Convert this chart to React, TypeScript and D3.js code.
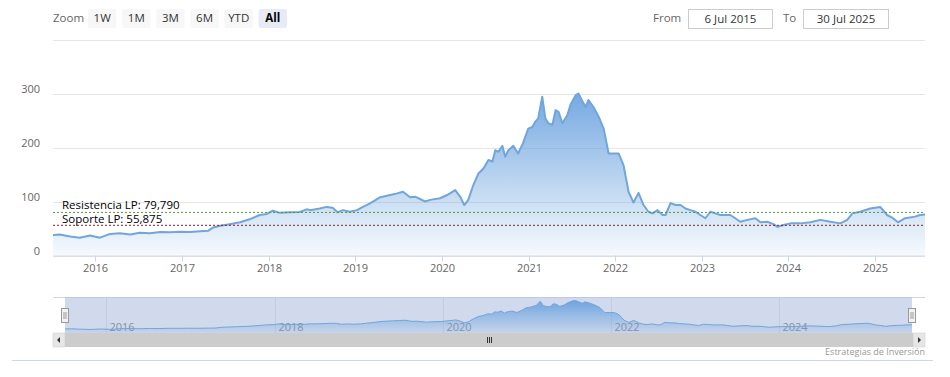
import React from 'react';
import * as d3 from 'd3';

const dates = [
  '2015-07-06','2015-08-03','2015-09-16','2015-10-27','2015-12-09','2016-01-20','2016-03-03','2016-04-13','2016-05-26','2016-07-06',
  '2016-08-18','2016-09-30','2016-11-10','2016-12-23','2017-02-03','2017-03-18','2017-04-21','2017-05-12','2017-06-10','2017-07-20',
  '2017-09-02','2017-10-12','2017-11-24','2017-12-24','2018-01-18','2018-02-17','2018-04-01','2018-05-11','2018-06-10','2018-06-24',
  '2018-08-04','2018-09-02','2018-09-27','2018-10-18','2018-11-09','2018-12-09','2019-01-08','2019-02-02','2019-03-04','2019-04-16',
  '2019-05-28','2019-06-26','2019-07-21','2019-08-20','2019-09-10','2019-10-22','2019-11-12','2019-12-24','2020-01-23','2020-02-26',
  '2020-03-19','2020-04-04','2020-04-21','2020-05-12','2020-06-03','2020-06-24','2020-07-15','2020-08-01','2020-08-13','2020-08-26',
  '2020-09-12','2020-09-24','2020-10-07','2020-10-28','2020-11-17','2020-12-08','2020-12-30','2021-01-16','2021-01-29','2021-02-10',
  '2021-02-27','2021-03-12','2021-03-25','2021-04-11','2021-04-24','2021-05-07','2021-05-23','2021-06-13','2021-06-26','2021-07-18',
  '2021-07-30','2021-08-16','2021-08-29','2021-09-10','2021-10-01','2021-10-23','2021-11-13','2021-12-04','2021-12-25','2022-01-15',
  '2022-02-05','2022-02-26','2022-03-19','2022-04-09','2022-04-30','2022-05-21','2022-06-07','2022-06-28','2022-07-19','2022-08-01',
  '2022-08-22','2022-09-12','2022-10-03','2022-10-24','2022-11-14','2022-12-05','2022-12-26','2023-01-16','2023-02-06','2023-02-27',
  '2023-03-20','2023-05-01','2023-05-22','2023-06-12','2023-07-12','2023-08-15','2023-09-05','2023-10-04','2023-10-30','2023-11-16',
  '2023-12-11','2024-01-10','2024-02-21','2024-04-03','2024-05-15','2024-06-26','2024-08-07','2024-09-05','2024-09-27','2024-10-30',
  '2024-12-11','2025-01-22','2025-02-20','2025-03-17','2025-04-07','2025-05-07','2025-06-18','2025-07-09','2025-07-30'
];

const values = [
  38, 39, 35, 33, 37, 33, 40, 41, 39, 42,
  41, 43.5, 43, 44, 43.5, 45, 46, 52, 55, 58,
  61.5, 67, 75, 77, 83, 79, 80, 80.5, 85.5, 84,
  87, 90, 88.5, 80, 84, 81, 84, 90, 96.5, 108,
  112, 115, 118, 108, 109, 100, 103, 106, 112, 121,
  108, 93.5, 103, 130, 152, 161, 177, 174, 195, 192,
  203, 183, 195, 203, 189, 208, 235, 238, 248, 254,
  294, 254, 245, 242, 269, 266, 245, 260, 279, 297,
  300, 285, 275, 288, 275, 257, 235, 189, 189, 189,
  167, 118, 98, 116, 93.5, 81, 78, 84, 75, 75,
  97, 93.5, 93.5, 87, 84, 81, 75, 69, 81, 78,
  75, 75, 69, 62.5, 66, 69, 61.5, 62.5, 58, 53,
  56.5, 59.5, 59.5, 61.5, 66, 62.5, 59.5, 66, 78, 81,
  87, 90, 75, 69, 61.5, 69, 72, 75, 76
];

const yTicks = [0, 100, 200, 300, 400];
const xTickYears = [2016, 2017, 2018, 2019, 2020, 2021, 2022, 2023, 2024, 2025];
const navTickYears = [2016, 2018, 2020, 2022, 2024];
const zoomButtons = ['1W', '1M', '3M', '6M', 'YTD', 'All'];
const selectedButton = 'All';
const levelLabels = ['Resistencia LP: 79,790', 'Soporte LP: 55,875'];
const levelValues = [79.79, 55.875];
const levelColors = ['#4e9a3a', '#8c1d35'];
const startDate = '2015-07-06';
const endDate = '2025-07-30';
const fromText = '6 Jul 2015';
const toText = '30 Jul 2025';
const creditText = 'Estrategias de Inversión';

const FONT = '"Open Sans", "Noto Sans", sans-serif';

export default function App() {
  const W = 950, H = 377;
  const parse = d3.timeParse('%Y-%m-%d');
  const data = dates.map((d, i) => ({ date: parse(d) as Date, value: values[i] }));
  const start = parse(startDate) as Date;
  const end = parse(endDate) as Date;

  const left = 53, right = 925, top = 39.5, bottom = 255.5;
  const x = d3.scaleTime().domain([start, end]).range([left, right]);
  const y = d3.scaleLinear().domain([0, 400]).range([bottom, top]);

  const area = d3.area<{ date: Date; value: number }>()
    .x(d => x(d.date)).y0(y(0)).y1(d => y(d.value));
  const line = d3.line<{ date: Date; value: number }>()
    .x(d => x(d.date)).y(d => y(d.value));

  // navigator
  const navTop = 297.5, navBottom = 333, navL = 65, navR = 912;
  const xn = d3.scaleTime().domain([start, end]).range([navL, navR]);
  const yn = d3.scaleLinear().domain([0, d3.max(values) as number]).range([navBottom, 300.5]);
  const nArea = d3.area<{ date: Date; value: number }>()
    .x(d => xn(d.date)).y0(navBottom).y1(d => yn(d.value));
  const nLine = d3.line<{ date: Date; value: number }>()
    .x(d => xn(d.date)).y(d => yn(d.value));

  const btnX = d3.scaleBand<string>().domain(zoomButtons).range([88, 287]).paddingInner(0.17);

  const handle = (cx: number) => (
    <g key={cx}>
      <rect x={cx - 3.5} y={308.5} width={7} height={14} fill="#f2f2f2" stroke="#999" strokeWidth={1} />
      <line x1={cx - 1} x2={cx - 1} y1={312} y2={319} stroke="#999" />
      <line x1={cx + 1} x2={cx + 1} y1={312} y2={319} stroke="#999" />
    </g>
  );

  return (
    <svg width={W} height={H} style={{ position: 'absolute', left: 0, top: 0, display: 'block', background: '#fff' }}
      fontFamily={FONT}>
      <defs>
        <linearGradient id="mainGrad" x1="0" y1="0" x2="0" y2="1">
          <stop offset="0" stopColor="#6aa2df" stopOpacity={0.92} />
          <stop offset="1" stopColor="#6aa2df" stopOpacity={0.06} />
        </linearGradient>
        <linearGradient id="navGrad" x1="0" y1="0" x2="0" y2="1">
          <stop offset="0" stopColor="#6aa2df" stopOpacity={0.95} />
          <stop offset="1" stopColor="#6aa2df" stopOpacity={0.1} />
        </linearGradient>
        <clipPath id="plotClip">
          <rect x={left} y={top} width={right - left} height={bottom - top} />
        </clipPath>
      </defs>

      {/* range selector */}
      <text x={53} y={22} fontSize={11.5} fill="#666">Zoom</text>
      {zoomButtons.map(b => {
        const bx = btnX(b) as number;
        const sel = b === selectedButton;
        return (
          <g key={b}>
            <rect x={bx} y={9} width={btnX.bandwidth()} height={19} rx={2} fill={sel ? '#e6ebf5' : '#f7f7f7'} />
            <text x={bx + btnX.bandwidth() / 2} y={22} textAnchor="middle" fontSize={11.5}
              fill={sel ? '#000' : '#333'} fontWeight={sel ? 'bold' : 'normal'}>{b}</text>
          </g>
        );
      })}
      <text x={653} y={22} fontSize={11.5} fill="#666">From</text>
      <rect x={688.5} y={9.5} width={84} height={19} fill="#fff" stroke="#ccc" />
      <text x={730.5} y={22.5} fontSize={11.5} fill="#333" textAnchor="middle">{fromText}</text>
      <text x={783} y={22} fontSize={11.5} fill="#666">To</text>
      <rect x={803.5} y={9.5} width={85} height={19} fill="#fff" stroke="#ccc" />
      <text x={846} y={22.5} fontSize={11.5} fill="#333" textAnchor="middle">{toText}</text>

      {/* grid */}
      {yTicks.map(t => (
        <g key={t}>
          <line x1={left} x2={right} y1={Math.round(y(t)) + 0.5} y2={Math.round(y(t)) + 0.5} stroke="#e6e6e6" />
          {t < 400 && (
            <text x={40} y={y(t) - 1} textAnchor="end" fontSize={11} fill="#666">{t}</text>
          )}
        </g>
      ))}

      {/* series */}
      <g clipPath="url(#plotClip)">
        <path d={area(data) as string} fill="url(#mainGrad)" />
        <path d={line(data) as string} fill="none" stroke="#72a5d8" strokeWidth={2} strokeLinejoin="round" />
      </g>

      {/* x axis */}
      <line x1={left} x2={right} y1={bottom + 0.5} y2={bottom + 0.5} stroke="#ccd6eb" />
      {xTickYears.map(yr => {
        const xx = Math.round(x(new Date(yr, 0, 1))) + 0.5;
        return (
          <g key={yr}>
            <line x1={xx} x2={xx} y1={bottom} y2={bottom + 6} stroke="#ccd6eb" />
            <text x={xx} y={272} textAnchor="middle" fontSize={11} fill="#666">{yr}</text>
          </g>
        );
      })}

      {/* support / resistance */}
      {levelValues.map((v, i) => (
        <g key={i}>
          <line x1={left} x2={right} y1={y(v)} y2={y(v)} stroke={levelColors[i]} strokeWidth={1} strokeDasharray="2,2" />
          <text x={62} y={y(v) - (i === 0 ? 3.5 : 2.5)} fontSize={11.5} fill="#000">{levelLabels[i]}</text>
        </g>
      ))}

      {/* navigator */}
      <line x1={left} x2={right} y1={navTop} y2={navTop} stroke="#ccd6eb" />
      <rect x={navL} y={navTop} width={navR - navL} height={navBottom - navTop} fill="rgba(102,133,194,0.3)" />
      {navTickYears.map(yr => {
        const xx = Math.round(xn(new Date(yr, 0, 1))) + 0.5;
        return (
          <g key={yr}>
            <line x1={xx} x2={xx} y1={navTop} y2={navBottom} stroke="#c4cde0" />
            <text x={xx + 3} y={331} fontSize={11} fill="#8a8fa0">{yr}</text>
          </g>
        );
      })}
      <path d={nArea(data) as string} fill="url(#navGrad)" />
      <path d={nLine(data) as string} fill="none" stroke="#72a5d8" strokeWidth={1} />
      {handle(navL)}
      {handle(navR)}

      {/* scrollbar */}
      <rect x={left} y={333} width={right - left} height={14} fill="#f2f2f2" />
      <rect x={navL} y={333} width={navR + 1 - navL} height={14} fill="#cccccc" />
      <rect x={left} y={333} width={12} height={14} fill="#e6e6e6" stroke="#ccc" strokeWidth={0.5} />
      <path d={`M ${left + 7} ${337} L ${left + 4} ${340} L ${left + 7} ${343} Z`} fill="#333" />
      <rect x={right - 12} y={333} width={12} height={14} fill="#e6e6e6" stroke="#ccc" strokeWidth={0.5} />
      <path d={`M ${right - 7} ${337} L ${right - 4} ${340} L ${right - 7} ${343} Z`} fill="#333" />
      {[-2, 0, 2].map(o => (
        <line key={o} x1={489 + o + 0.5} x2={489 + o + 0.5} y1={337} y2={343} stroke="#333" />
      ))}

      <text x={925} y={355} textAnchor="end" fontSize={9} fill="#999">{creditText}</text>
      <line x1={12} x2={933} y1={360.5} y2={360.5} stroke="#ccd6eb" />
    </svg>
  );
}
